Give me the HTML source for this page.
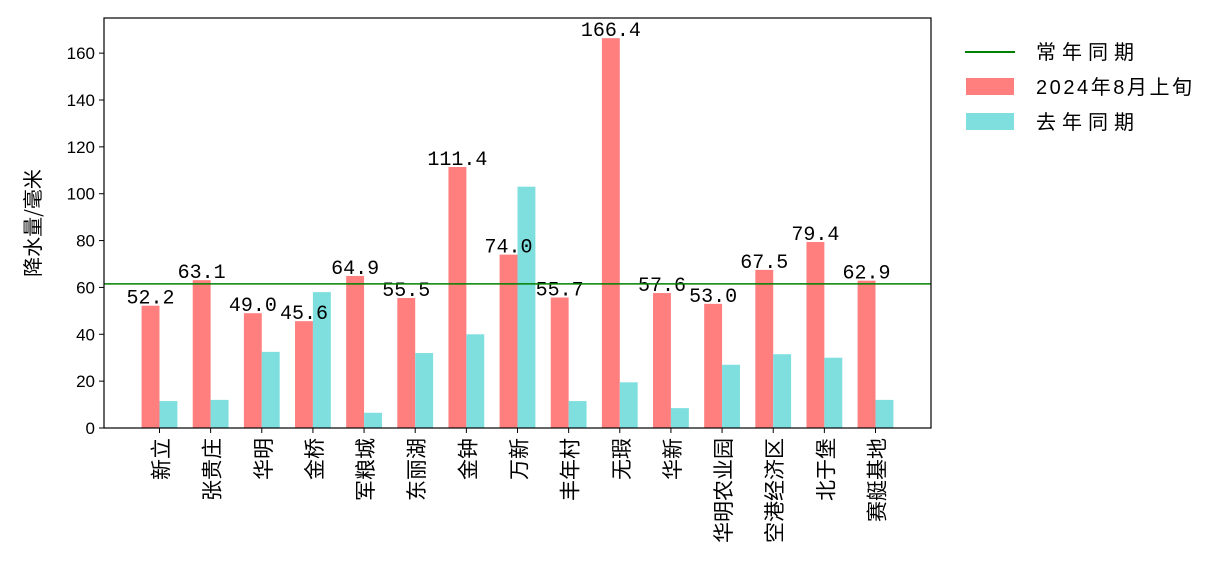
<!DOCTYPE html>
<html><head><meta charset="utf-8"><style>
body{margin:0;background:#fff;}
svg{display:block;font-family:"Liberation Sans","Noto Sans CJK SC",sans-serif;}
</style></head><body>
<svg id="chart" width="1222" height="586" viewBox="0 0 1222 586" xmlns="http://www.w3.org/2000/svg">
<rect width="1222" height="586" fill="#fff"/>
<g id="plot"></g>
<g id="legend">
 <line x1="965" y1="52" x2="1015" y2="52" stroke="#008000" stroke-width="2"/>
 <text x="1036" y="59" font-size="20" textLength="98">常年同期</text>
 <rect x="966" y="78" width="48" height="17" fill="#ff7f7f"/>
 <text x="1036" y="94" font-size="20" textLength="156">2024年8月上旬</text>
 <rect x="966" y="113" width="48" height="17" fill="#7fdfdf"/>
 <text x="1036" y="129" font-size="20" textLength="98">去年同期</text>
</g>
</svg>
<script>
const categories=["新立","张贵庄","华明","金桥","军粮城","东丽湖","金钟","万新","丰年村","无瑕","华新","华明农业园","空港经济区","北于堡","赛艇基地"];
const current=[52.2,63.1,49.0,45.6,64.9,55.5,111.4,74.0,55.7,166.4,57.6,53.0,67.5,79.4,62.9];
const lastYear=[11.5,12,32.5,58,6.5,32,40,103,11.5,19.5,8.5,27,31.5,30,12];
const normal=61.5;
const yTicks=[0,20,40,60,80,100,120,140,160];

const NS="http://www.w3.org/2000/svg";
const L=104,R=931,T=18,B=428;
const xmin=-1.085,xmax=15.085,ymax=175;
const xs=v=>L+(v-xmin)/(xmax-xmin)*(R-L);
const ys=v=>B-v/ymax*(B-T);
const g=document.getElementById('plot');
function mk(tag,attrs){const e=document.createElementNS(NS,tag);for(const k in attrs)e.setAttribute(k,attrs[k]);g.appendChild(e);return e;}
const bw=0.35*(R-L)/(xmax-xmin);
categories.forEach((c,i)=>{
  const cx=xs(i);
  const r=mk('rect',{x:cx-bw,y:ys(current[i]),width:bw,height:B-ys(current[i]),fill:'#ff7f7f'});
  
  
  const b=mk('rect',{x:cx,y:ys(lastYear[i]),width:bw,height:B-ys(lastYear[i]),fill:'#7fdfdf'});
  
  
  const t=mk('text',{x:cx-bw/2,y:ys(current[i])-2,'font-size':20,'text-anchor':'middle','font-family':'"Liberation Mono","Noto Sans CJK SC",monospace'});
  t.textContent=current[i].toFixed(1);
  
  
  const tk=mk('line',{x1:cx,y1:B,x2:cx,y2:B+5,stroke:'#000'});
  
  
  const lb=mk('text',{'font-size':21,transform:`translate(${cx+9},${B+10}) rotate(-90)`,'text-anchor':'end','font-family':'"Noto Sans CJK SC",sans-serif'});
  lb.textContent=c;
  
  
});
const nl=mk('line',{x1:L,x2:R,y1:ys(normal),y2:ys(normal),stroke:'#008000','stroke-width':1.5});


yTicks.forEach(v=>{
  const tk=mk('line',{x1:L-5,x2:L,y1:ys(v),y2:ys(v),stroke:'#000'});
  
  
  const t=mk('text',{x:L-9,y:ys(v)+6,'font-size':17,'text-anchor':'end'});
  t.textContent=v;
  
  
});
const fr=mk('rect',{x:L,y:T,width:R-L,height:B-T,fill:'none',stroke:'#000','stroke-width':1.2});


const yt=mk('text',{'font-size':20,'text-anchor':'middle',transform:`translate(40,${(T+B)/2}) rotate(-90)`,'font-family':'"Noto Sans CJK SC",sans-serif'});
yt.textContent='降水量/毫米';


</script>
</body></html>
